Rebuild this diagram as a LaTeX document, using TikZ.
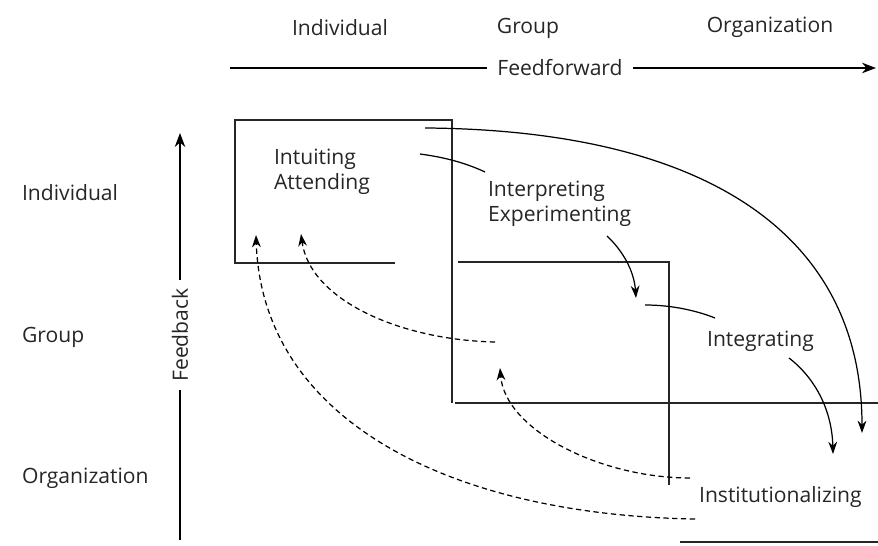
\documentclass[tikz,border=0pt]{standalone}
\usepackage{fontspec}
\setmainfont{Open Sans}
\usetikzlibrary{arrows.meta}

\tikzset{
  lbl/.style={font=\fontsize{12}{14}\selectfont, inner sep=1pt, text=black!85},
  frame/.style={line width=0.8pt, black!85},
  fwd/.style={line width=0.7pt, -{Stealth[length=7pt,width=5pt]}},
  fwdline/.style={line width=0.7pt},
  back/.style={line width=0.7pt, dash pattern=on 3pt off 2pt, -{Stealth[length=7pt,width=5pt]}},
  axis/.style={line width=0.8pt, -{Stealth[length=8pt,width=6pt]}}
}

\begin{document}
\begin{tikzpicture}[x=0.02cm, y=-0.02cm]
\useasboundingbox (0,0) rectangle (878,546);

% headings
\node[lbl] (colind) at (340,28) {Individual};
\node[lbl] (colgrp) at (528,28) {Group};
\node[lbl] (colorg) at (770,27) {Organization};
\node[lbl, anchor=west] (rowind) at (20,193) {Individual};
\node[lbl, anchor=west] (rowgrp) at (20,337) {Group};
\node[lbl, anchor=west] (roworg) at (20,478) {Organization};

% axes
\coordinate (ffstart) at (230,68);
\coordinate (ffend) at (876,68);
\draw[axis] (ffstart) -- (ffend);
\node[lbl, fill=white, inner sep=6pt] (ff) at (560,68) {Feedforward};
\coordinate (fbstart) at (180,540);
\coordinate (fbend) at (180,133);
\draw[axis] (fbstart) -- (fbend);
\node[lbl, fill=white, rotate=90, inner sep=5pt] (fb) at (180,335) {Feedback};

% frames
\draw[frame] (395,263) -- (235,263) -- (235,120) -- (452,120) -- (452,403);
\draw[frame] (458,262) -- (669,262) -- (669,485);
\draw[frame] (455,403) -- (878,403);
\draw[frame] (680,542) -- (878,542);

% processes
\node[lbl, anchor=west, align=left] (intuit) at (272,172) {Intuiting\\Attending};
\node[lbl, anchor=west, align=left] (interp) at (486,204) {Interpreting\\Experimenting};
\node[lbl, anchor=west] (integr) at (705,341) {Integrating};
\node[lbl, anchor=west] (instit) at (697,497) {Institutionalizing};

% feedforward
\coordinate (a1) at (425,128);
\coordinate (a2) at (862,433);
\draw[fwd] (a1) .. controls (700,130) and (862,230) .. (a2);
\coordinate (b1) at (420,154);
\coordinate (b2) at (485,172);
\draw[fwdline] (b1) .. controls (450,158) and (470,165) .. (b2);
\coordinate (c1) at (607,236);
\coordinate (c2) at (636,298);
\draw[fwd] (c1) .. controls (622,250) and (634,270) .. (c2);
\coordinate (d1) at (645,305);
\coordinate (d2) at (715,318);
\draw[fwdline] (d1) .. controls (675,305) and (700,312) .. (d2);
\coordinate (e1) at (789,358);
\coordinate (e2) at (833,454);
\draw[fwd] (e1) .. controls (815,378) and (832,410) .. (e2);

% feedback
\coordinate (f1) at (495,342);
\coordinate (f2) at (301,234);
\draw[back] (f1) .. controls (400,340) and (310,300) .. (f2);
\coordinate (g1) at (695,519);
\coordinate (g2) at (256,235);
\draw[back] (g1) .. controls (450,515) and (262,420) .. (g2);
\coordinate (h1) at (690,478);
\coordinate (h2) at (500,368);
\draw[back] (h1) .. controls (600,478) and (505,430) .. (h2);
\end{tikzpicture}
\end{document}
